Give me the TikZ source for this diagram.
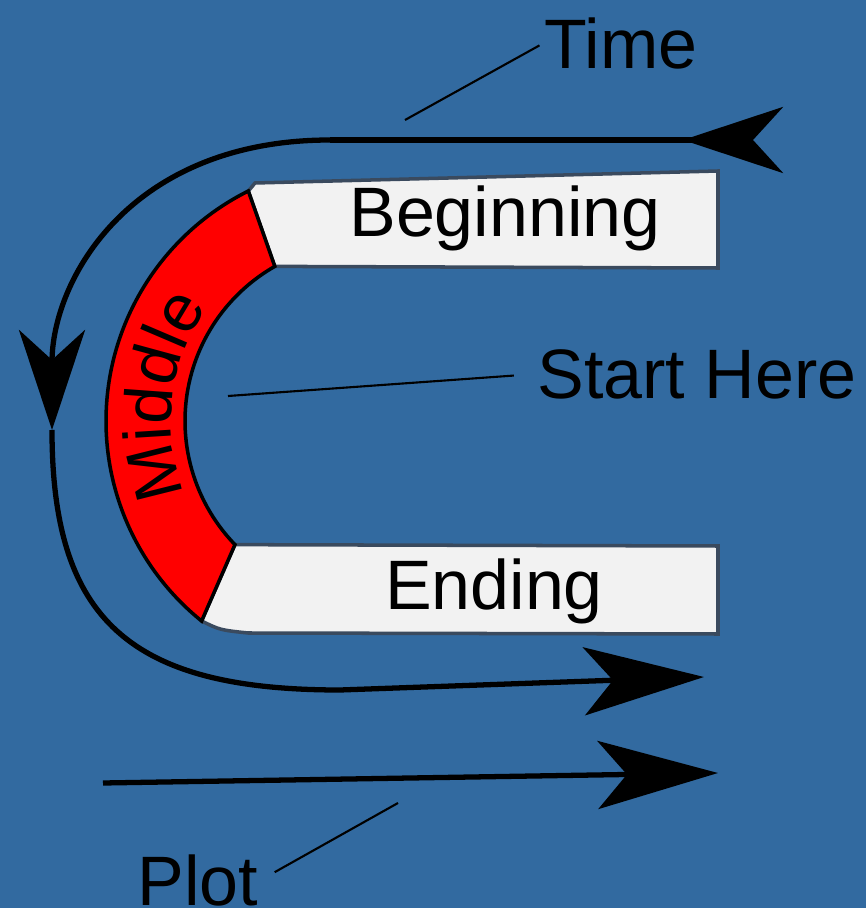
\documentclass[tikz,border=0pt]{standalone}
\usepackage{fontspec}
\setmainfont{Liberation Sans}
\usepackage{tikz}
\usetikzlibrary{arrows.meta, decorations.text, decorations.markings}

\definecolor{plotblue}{RGB}{50,106,160}
\definecolor{armgray}{RGB}{242,242,242}
\definecolor{armedge}{RGB}{58,74,94}
\newcommand{\bigfont}{\fontsize{19.9}{24}\selectfont}
\newcommand{\midfont}{\fontsize{19}{23}\selectfont}

\tikzset{
    shorttip/.tip={Stealth[length=1.0cm, width=0.66cm, inset=0.3cm]},
    longtip/.tip={Stealth[length=1.2cm, width=0.68cm, inset=0.29cm]}
}

\begin{document}
\begin{tikzpicture}[x=0.01cm, y=0.01cm,
    word/.style={font=\bigfont, inner sep=0pt, anchor=base},
    arm/.style={fill=armgray, draw=armedge, line width=1pt},
    middlepart/.style={fill=red, draw=black, line width=1pt},
    timeline/.style={line width=1.5pt},
    pointer/.style={line width=0.6pt}]

    \fill[plotblue] (0,0) rectangle (866,908);
    \useasboundingbox (0,0) rectangle (866,908);

    \coordinate (ctr) at (363,487);
    \path (ctr) ++(116.5:257) coordinate (rto)
          (ctr) ++(119.7:178) coordinate (rti)
          (ctr) ++(231.1:257) coordinate (rbo)
          (ctr) ++(224:178)   coordinate (rbi)
          (ctr) ++(233:192)   coordinate (mstart);

    % the U: two arms and the middle
    \draw[arm] (rto) -- (255,725) -- (718,737) -- (718,640) -- (rti) -- cycle;
    \draw[arm] (rbi) -- (718,362) -- (718,274) -- (248,275) .. controls (220,278) .. (rbo) -- cycle;
    \draw[middlepart] (rto) arc[start angle=116.5, end angle=231.1, radius=257]
        -- (rbi) arc[start angle=224, end angle=119.7, radius=178] -- cycle;
    \path[decorate, decoration={text along path, text align=center, text={|\midfont|Middle}}]
        (mstart) arc[start angle=233, end angle=113, radius=192];

    \node[word] (beginning) at (505,671) {Beginning};
    \node[word] (ending) at (494,298) {Ending};
    \node[word] (time) at (621,840) {Time};
    \node[word] (start) at (697,510) {Start Here};
    \node[word] (plot) at (198,2) {Plot};

    % time goes round the U
    \coordinate (t0) at (752,768);
    \coordinate (tc) at (330,768);
    \coordinate (tleft) at (52,478);
    \coordinate (tend) at (704,231);
    \draw[timeline, postaction={decorate},
        decoration={markings, mark=at position 0.69cm with {\arrow{shorttip}}}] (t0) -- (tc);
    \draw[timeline, -{shorttip}] (tc) .. controls (130,768) and (52,628) .. (tleft);
    \draw[timeline, -{longtip}] (tleft) .. controls (52,288) and (130,218) .. (340,218) -- (tend);

    % the plot goes straight
    \coordinate (p0) at (103,125);
    \coordinate (p1) at (718,135);
    \draw[timeline, -{longtip}] (p0) -- (p1);

    \coordinate (timeptr) at (405,788);
    \coordinate (hereptr) at (228,512);
    \coordinate (plotptr) at (398,105);
    \draw[pointer, shorten >=0.05cm] (timeptr) -- (time.west);
    \draw[pointer, shorten >=0.23cm] (hereptr) -- (start.west);
    \draw[pointer, shorten >=0.18cm] (plotptr) -- (plot.east);
\end{tikzpicture}
\end{document}
